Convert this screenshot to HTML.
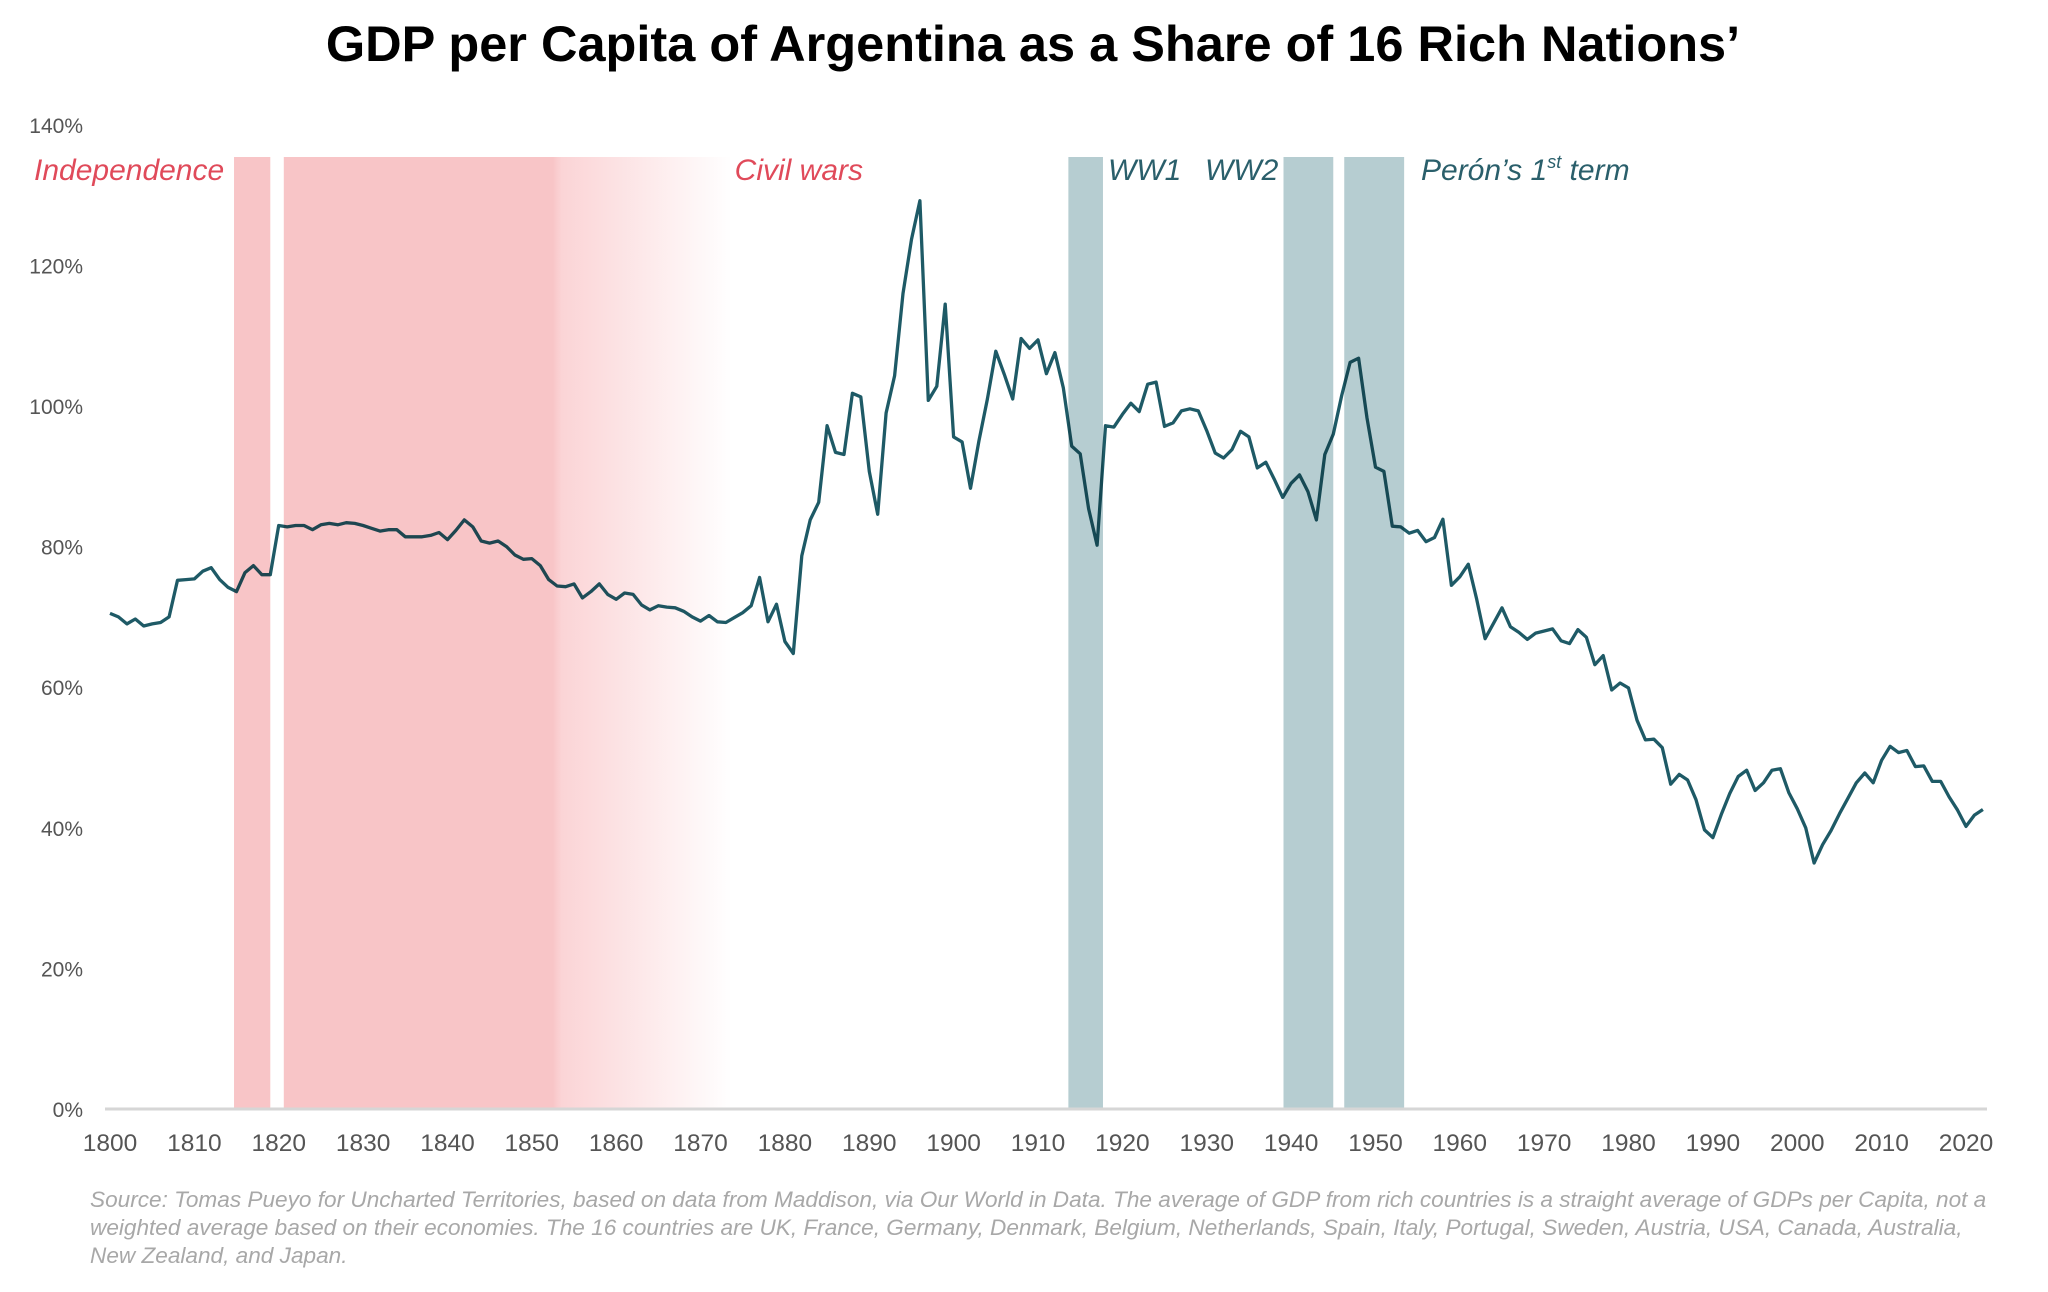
<!DOCTYPE html>
<html><head><meta charset="utf-8">
<style>
html,body{margin:0;padding:0;background:#fff;}
svg{display:block;font-family:"Liberation Sans",sans-serif;}
</style></head>
<body>
<svg id="chart" width="2048" height="1292" viewBox="0 0 2048 1292">
<defs>
<linearGradient id="cwGrad" x1="0" x2="1" y1="0" y2="0">
<stop offset="0" stop-color="#f8c5c7"/>
<stop offset="0.6" stop-color="#f8c5c7"/>
<stop offset="0.62" stop-color="#fbd4d6"/>
<stop offset="1" stop-color="#ffffff"/>
</linearGradient>
</defs>
<text x="1033" y="61" text-anchor="middle" font-size="50.5" font-weight="bold" fill="#000">GDP per Capita of Argentina as a Share of 16 Rich Nations’</text>
<g id="yticks"></g>
<g id="xticks"></g>
<g id="line-layer"></g>
<g id="bands" style="mix-blend-mode:multiply"></g>
<line x1="105" x2="1987" y1="1109" y2="1109" stroke="#d6d6d6" stroke-width="3"/>
<g font-style="italic" font-size="30">
<text x="34" y="180" fill="#e04a5a">Independence</text>
<text x="863" y="180" text-anchor="end" fill="#e04a5a">Civil wars</text>
<text x="1108" y="180" fill="#2a5f6b">WW1</text>
<text x="1205" y="180" fill="#2a5f6b">WW2</text>
<text x="1421" y="180" fill="#2a5f6b">Perón’s 1<tspan font-size="18" dy="-12">st</tspan><tspan dy="12"> term</tspan></text>
</g>
<g font-style="italic" font-size="22.6" fill="#a8a8a8">
<text x="90" y="1207">Source: Tomas Pueyo for Uncharted Territories, based on data from Maddison, via Our World in Data. The average of GDP from rich countries is a straight average of GDPs per Capita, not a</text>
<text x="90" y="1235">weighted average based on their economies. The 16 countries are UK, France, Germany, Denmark, Belgium, Netherlands, Spain, Italy, Portugal, Sweden, Austria, USA, Canada, Australia,</text>
<text x="90" y="1263">New Zealand, and Japan.</text>
</g>
</svg>
<script>
const startYear = 1800;
const shares = [70.5,70,69,69.7,68.7,69,69.2,70,75.2,75.3,
75.4,76.5,77,75.3,74.2,73.6,76.3,77.3,76,76,
83,82.8,83,83,82.4,83.1,83.3,83.1,83.4,83.3,
83,82.6,82.2,82.4,82.4,81.4,81.4,81.4,81.6,82,
81,82.3,83.8,82.8,80.8,80.5,80.8,80,78.8,78.2,
78.3,77.3,75.3,74.4,74.3,74.7,72.7,73.6,74.7,73.2,
72.5,73.4,73.2,71.7,71,71.6,71.4,71.3,70.8,70,
69.4,70.2,69.3,69.2,69.9,70.6,71.6,75.6,69.3,71.8,
66.5,64.8,78.7,83.8,86.3,97.2,93.4,93.1,101.8,101.3,
90.7,84.6,99,104.3,116,123.7,129.2,100.8,102.8,114.5,
95.6,94.9,88.3,95,101,107.8,104.5,101,109.6,108.2,
109.4,104.6,107.6,102.6,94.3,93.2,85.4,80.2,97.2,97,
98.8,100.4,99.2,103.1,103.4,97.1,97.6,99.3,99.6,99.3,
96.5,93.3,92.6,93.8,96.4,95.6,91.2,92,89.6,87,
89,90.2,87.8,83.8,93.1,96,101.5,106.2,106.8,98.3,
91.3,90.7,82.9,82.8,81.9,82.3,80.7,81.3,83.9,74.5,
75.7,77.5,72.5,66.9,69.1,71.3,68.6,67.8,66.8,67.7,
68,68.3,66.6,66.2,68.2,67.1,63.2,64.5,59.6,60.6,
59.9,55.3,52.5,52.6,51.4,46.2,47.6,46.8,44,39.7,
38.6,41.9,44.9,47.3,48.2,45.3,46.4,48.2,48.4,45,
42.7,40,35,37.6,39.6,42,44.2,46.4,47.8,46.4,
49.6,51.6,50.7,51,48.7,48.8,46.6,46.6,44.4,42.5,
40.2,41.8,42.6];
const yTicks = [0,20,40,60,80,100,120,140];
const xTicks = [1800,1810,1820,1830,1840,1850,1860,1870,1880,1890,1900,1910,1920,1930,1940,1950,1960,1970,1980,1990,2000,2010,2020];
const bandNames = ['independence-band','civil-wars-band','ww1-band','ww2-band','peron-band'];
const bandStarts = [1814.7,1820.6,1913.6,1939.1,1946.3];
const bandEnds = [1819,1873.7,1917.7,1945,1953.4];
const bandColors = ['#f8c5c7','url(#cwGrad)','#b6cdd1','#b6cdd1','#b6cdd1'];

const NS='http://www.w3.org/2000/svg';
function xs(yr){return 110+(yr-1800)*(1856/220);}
function ys(p){return 1109-p*7.03;}

const yg=document.getElementById('yticks');
yTicks.forEach(v=>{
  const t=document.createElementNS(NS,'text');
  t.setAttribute('x',83);t.setAttribute('y',ys(v)+8);
  t.setAttribute('text-anchor','end');t.setAttribute('font-size','21');t.setAttribute('fill','#555');
  t.textContent=v+'%';
  
  
  yg.appendChild(t);
});
const xg=document.getElementById('xticks');
xTicks.forEach(v=>{
  const t=document.createElementNS(NS,'text');
  t.setAttribute('x',xs(v));t.setAttribute('y',1151);
  t.setAttribute('text-anchor','middle');t.setAttribute('font-size','24.5');t.setAttribute('fill','#555');
  t.textContent=v;
  
  
  xg.appendChild(t);
});
const bg=document.getElementById('bands');
bandStarts.forEach((s,i)=>{
  const r=document.createElementNS(NS,'rect');
  r.setAttribute('x',xs(s));r.setAttribute('y',157);
  r.setAttribute('width',xs(bandEnds[i])-xs(s));r.setAttribute('height',1109-157);
  r.setAttribute('fill',bandColors[i]);
  
  
  bg.appendChild(r);
});
const pts=shares.map((v,i)=>xs(startYear+i).toFixed(1)+','+ys(v).toFixed(1)).join(' ');
const pl=document.createElementNS(NS,'polyline');
pl.setAttribute('points',pts);pl.setAttribute('fill','none');
pl.setAttribute('stroke','#1e5a66');pl.setAttribute('stroke-width','3.3');pl.setAttribute('stroke-linejoin','round');


document.getElementById('line-layer').appendChild(pl);
</script>
</body></html>
